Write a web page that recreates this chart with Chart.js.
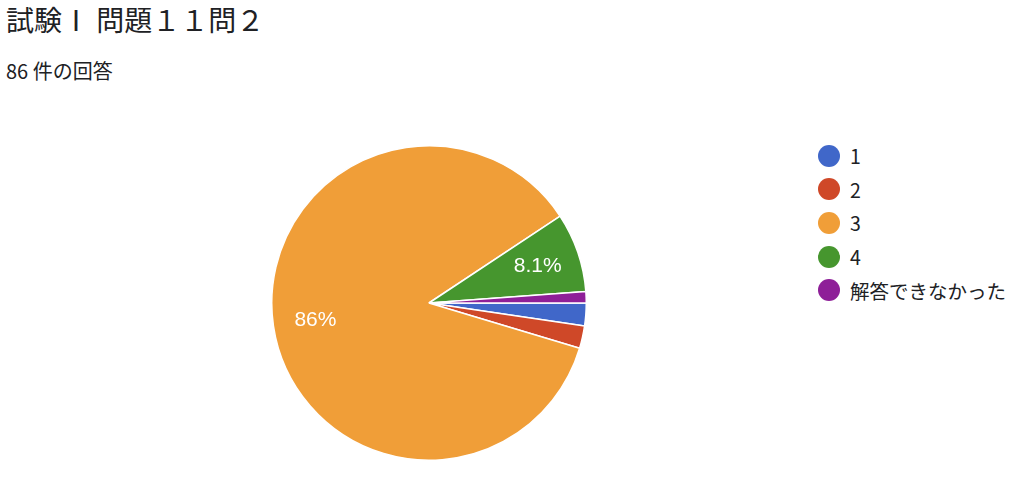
<!DOCTYPE html>
<html lang="ja">
<head>
<meta charset="utf-8">
<script src="https://cdn.jsdelivr.net/npm/chart.js@4"></script>
<style>
  body { margin: 0; background: #fff; width: 1024px; height: 480px; overflow: hidden; position: relative;
         font-family: "Noto Sans CJK JP", "Noto Sans", sans-serif; color: #202124; }
  #title { position: absolute; left: 6px; top: -1px; font-size: 28px; white-space: nowrap; }
  #subtitle { position: absolute; left: 6px; top: 56px; font-size: 20px; white-space: nowrap; }
  #pieBox { position: absolute; left: 271px; top: 145px; width: 316px; height: 316px; }
  #legend { position: absolute; left: 818px; top: 139px; }
  .item { display: flex; align-items: center; height: 33.6px; font-size: 19.5px; white-space: nowrap; }
  .dot { width: 22px; height: 22px; border-radius: 50%; margin-right: 10px; }
</style>
</head>
<body>
<div id="title">試験Ⅰ 問題１１問２</div>
<div id="subtitle">86 件の回答</div>
<div id="pieBox"><canvas id="pieChart"></canvas></div>
<div id="legend"></div>
<script>
// Answers and how many picked each one
const labels = ['1', '2', '3', '4', '解答できなかった'];
const counts = [2, 2, 74, 7, 1];
const colors = ['#4067c9', '#cf4828', '#f09e38', '#46962e', '#8e1f98'];

const total = counts.reduce((a, b) => a + b, 0);

// Legend on the right
const legend = document.getElementById('legend');
labels.forEach((name, i) => {
  const row = document.createElement('div');
  row.className = 'item';
  row.innerHTML = `<span class="dot" style="background:${colors[i]}"></span><span>${name}</span>`;
  legend.appendChild(row);
});

// Percent text inside the bigger slices
const sliceLabels = {
  id: 'sliceLabels',
  afterDatasetsDraw(chart) {
    const ctx = chart.ctx;
    chart.getDatasetMeta(0).data.forEach((arc, i) => {
      const pct = counts[i] / total * 100;
      if (pct < 5) return;
      const mid = (arc.startAngle + arc.endAngle) / 2;
      const r = arc.outerRadius * 0.73;
      ctx.save();
      ctx.fillStyle = '#fff';
      ctx.font = '21px "Liberation Sans", Arial, sans-serif';
      ctx.textAlign = 'center';
      ctx.textBaseline = 'middle';
      ctx.fillText(parseFloat(pct.toPrecision(2)) + '%', arc.x + Math.cos(mid) * r, arc.y + Math.sin(mid) * r);
      ctx.restore();
    });
  }
};

new Chart(document.getElementById('pieChart'), {
  type: 'pie',
  data: {
    labels: labels,
    datasets: [{
      data: counts,
      backgroundColor: colors,
      borderColor: '#fff',
      borderWidth: 1.5
    }]
  },
  options: {
    responsive: true,
    maintainAspectRatio: false,
    animation: false,
    rotation: 90,
    layout: { padding: 0 },
    plugins: { legend: { display: false }, tooltip: { enabled: false } }
  },
  plugins: [sliceLabels]
});
</script>
</body>
</html>
